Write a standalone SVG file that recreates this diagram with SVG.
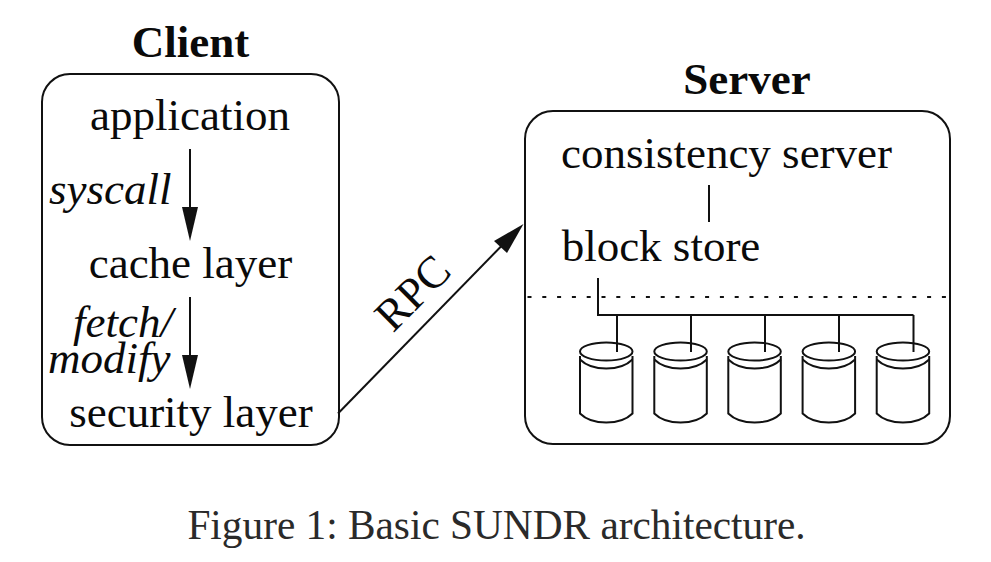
<svg xmlns="http://www.w3.org/2000/svg" width="991" height="562" viewBox="0 0 991 562">
<style>
text{font-family:"Liberation Serif","Times New Roman",serif;fill:#0a0a0a;font-size:45px}
.b{font-weight:bold}
.i{font-style:italic}
.cap{font-size:41.300px;fill:#2a2a2a}
.box{fill:none;stroke:#111;stroke-width:2}
.l{fill:none;stroke:#111;stroke-width:2}
.d{fill:none;stroke:#111;stroke-width:2}
.h{fill:#111}
</style>
<defs>
<g id="disk"><path class="d" d="M0 13.500 V71 C12 83 40.500 83 52.500 71 V13.500"/><path class="d" d="M0 17 C12 29 40.500 29 52.500 17"/><ellipse class="d" cx="26.250" cy="9" rx="26.250" ry="9"/></g>
</defs>
<rect width="991" height="562" fill="#fff"/>
<g id="client"><rect class="box" x="42" y="74" width="297" height="371" rx="28"/><text class="b" x="190.500" y="57" text-anchor="middle">Client</text></g>
<g id="application"><text x="190" y="130" text-anchor="middle">application</text></g>
<g id="cache"><text x="190.500" y="278" text-anchor="middle">cache layer</text></g>
<g id="security"><text x="191" y="427" text-anchor="middle">security layer</text></g>
<g id="server"><rect class="box" x="525" y="111" width="425" height="333" rx="28"/><text class="b" x="747" y="94" text-anchor="middle">Server</text></g>
<g id="consistency"><text x="726.500" y="168" text-anchor="middle">consistency server</text></g>
<g id="blockstore"><text x="661" y="260.500" text-anchor="middle">block store</text></g>
<g id="disk1"><use href="#disk" x="580" y="342.500"/></g>
<g id="disk2"><use href="#disk" x="654.300" y="342.500"/></g>
<g id="disk3"><use href="#disk" x="728.300" y="342.500"/></g>
<g id="disk4"><use href="#disk" x="802.600" y="342.500"/></g>
<g id="disk5"><use href="#disk" x="876.700" y="342.500"/></g>
<g id="connectors">
<path class="l" d="M190 149V236"/>
<path class="h" d="M182 207H198L190 241Z"/>
<path class="l" d="M190 297V384"/>
<path class="h" d="M182 355H198L190 389Z"/>
<path class="l" d="M338 413.500L518 229"/>
<path class="h" d="M494 241L523.500 224L507 253Z"/>
<path class="l" d="M709 185V222"/>
<path class="l" d="M598 278V315H913.500"/>
<path class="l" d="M617 315V352M691 315V352M765 315V352M839 315V352M913.500 315V352"/>
<path class="l" stroke-dasharray="4 10.800" d="M527.500 297H949"/>
</g>
<text class="i" x="49" y="204">syscall</text>
<text class="i" x="73" y="337">fetch/</text>
<text class="i" x="48" y="373">modify</text>
<text transform="translate(393 333.500) rotate(-45)" font-size="44">RPC</text>
<text class="cap" x="496.500" y="538.500" text-anchor="middle">Figure 1: Basic SUNDR architecture.</text>
</svg>
